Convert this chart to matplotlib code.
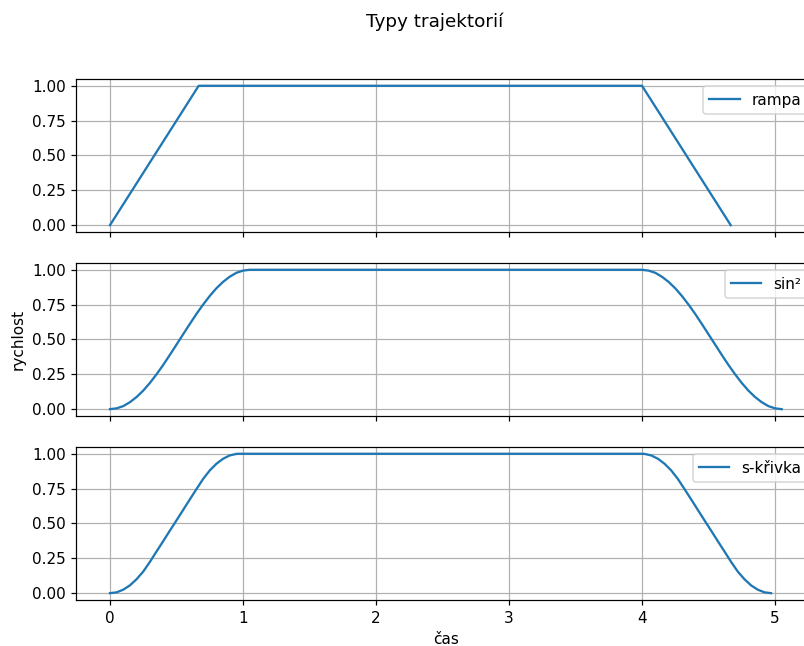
import matplotlib
matplotlib.use("Agg")
import matplotlib.pyplot as plt

# rampa - linear accel / decel
t_ramp = [0.0, 0.667, 4.0, 4.667]
v_ramp = [0.0, 1.0, 1.0, 0.0]

# sin^2 profile
t_sin = [0.0, 0.05, 0.1, 0.15, 0.2, 0.25, 0.3, 0.35, 0.4, 0.45, 0.5, 0.55,
         0.6, 0.65, 0.7, 0.75, 0.8, 0.85, 0.9, 0.95, 1.0, 1.05,
         4.0, 4.05, 4.1, 4.15, 4.2, 4.25, 4.3, 4.35, 4.4, 4.45, 4.5, 4.55,
         4.6, 4.65, 4.7, 4.75, 4.8, 4.85, 4.9, 4.95, 5.0, 5.05]
v_sin = [0.0, 0.006, 0.022, 0.05, 0.087, 0.133, 0.188, 0.25, 0.317, 0.389, 0.463, 0.537,
         0.611, 0.683, 0.75, 0.812, 0.867, 0.913, 0.95, 0.978, 0.994, 1.0,
         1.0, 0.994, 0.978, 0.95, 0.913, 0.867, 0.812, 0.75, 0.683, 0.611, 0.537, 0.463,
         0.389, 0.317, 0.25, 0.188, 0.133, 0.087, 0.05, 0.022, 0.006, 0.0]

# s-krivka profile
t_s = [0.0, 0.05, 0.1, 0.15, 0.2, 0.25, 0.3, 0.35, 0.4, 0.45, 0.5, 0.55, 0.6,
       0.65, 0.7, 0.75, 0.8, 0.85, 0.9, 0.95, 0.97,
       4.0, 4.02, 4.07, 4.12, 4.17, 4.22, 4.27, 4.32, 4.37, 4.42, 4.47, 4.52,
       4.57, 4.62, 4.67, 4.72, 4.77, 4.82, 4.87, 4.92, 4.97]
v_s = [0.0, 0.006, 0.025, 0.056, 0.1, 0.155, 0.224, 0.299, 0.373, 0.448, 0.522, 0.597, 0.672,
       0.746, 0.819, 0.88, 0.928, 0.964, 0.988, 0.999, 1.0,
       1.0, 0.999, 0.988, 0.964, 0.928, 0.88, 0.819, 0.746, 0.672, 0.597, 0.522, 0.448,
       0.373, 0.299, 0.224, 0.155, 0.1, 0.056, 0.025, 0.006, 0.0]

profiles = [(t_ramp, v_ramp, "rampa"),
            (t_sin, v_sin, "sin²"),
            (t_s, v_s, "s-křivka")]

fig, axes = plt.subplots(3, 1, figsize=(804 / 110, 646 / 110), dpi=110, sharex=True)
fig.subplots_adjust(left=0.095, right=1.014, top=0.878, bottom=0.071, hspace=0.2)

for ax, (t, v, name) in zip(axes, profiles):
    ax.plot(t, v, label=name)
    ax.grid(True)
    ax.legend(loc="upper right")

axes[1].set_ylabel("rychlost")
axes[2].set_xlabel("čas")
fig.suptitle("Typy trajektorií", x=0.54)

fig.savefig("out.png", dpi=110)
